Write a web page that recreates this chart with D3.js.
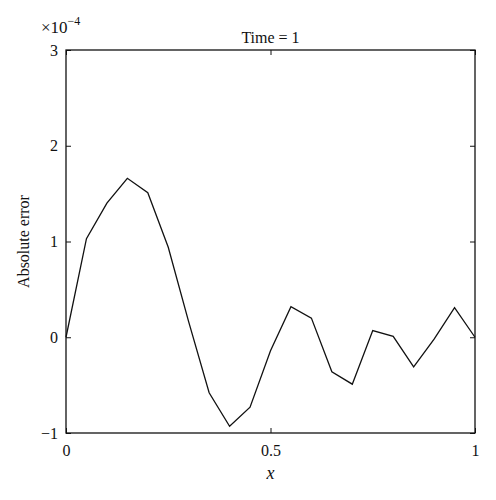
<!DOCTYPE html>
<html>
<head>
<meta charset="utf-8">
<script src="https://cdn.jsdelivr.net/npm/d3@7"></script>
<style>
  body { margin: 0; background: #fff; }
  text { font-family: "Liberation Serif", "DejaVu Serif", serif; fill: #111; }
</style>
</head>
<body>
<div id="chart"></div>
<script>
'use strict';
// sample points and absolute error (in units of 1e-4)
const xs = [0, 0.05, 0.1, 0.15, 0.2, 0.25, 0.3, 0.35, 0.4, 0.45, 0.5,
            0.55, 0.6, 0.65, 0.7, 0.75, 0.8, 0.85, 0.9, 0.95, 1];
const errs = [0, 1.03, 1.40, 1.66, 1.51, 0.94, 0.16, -0.58, -0.93, -0.73, -0.14,
              0.32, 0.20, -0.36, -0.49, 0.07, 0.01, -0.31, -0.02, 0.31, 0];
const xTicks = [0, 0.5, 1];
const yTicks = [-1, 0, 1, 2, 3];

((d3) => {
    const width = 496;
    const height = 500;
    const margin = { top: 50, right: 21, bottom: 67, left: 66 };
    const w = width - margin.left - margin.right;
    const h = height - margin.top - margin.bottom;

    const svg = d3.select('#chart')
        .append('svg')
        .attr('width', width)
        .attr('height', height);

    const g = svg.append('g')
        .attr('transform', 'translate(' + margin.left + ',' + margin.top + ')');

    const x = d3.scaleLinear().domain([0, 1]).range([0, w]);
    const y = d3.scaleLinear().domain([-1, 3]).range([h, 0]);

//axes, ticks pointing inward on all four sides
    const tickLen = 5;
    const styleAxis = (sel) => {
        sel.select('.domain').remove();
        sel.selectAll('line').attr('stroke', '#111').attr('stroke-width', 1);
        sel.selectAll('text').style('font-size', '16px');
    };

    g.append('g')
        .attr('transform', 'translate(0,' + h + ')')
        .call(d3.axisBottom(x).tickValues(xTicks).tickSizeInner(-tickLen).tickSizeOuter(0)
            .tickPadding(12).tickFormat(d3.format('')))
        .call(styleAxis);

    g.append('g')
        .call(d3.axisTop(x).tickValues(xTicks).tickSizeInner(-tickLen).tickSizeOuter(0)
            .tickFormat(''))
        .call(styleAxis);

    g.append('g')
        .call(d3.axisLeft(y).tickValues(yTicks).tickSizeInner(-tickLen).tickSizeOuter(0)
            .tickPadding(8).tickFormat((d) => d < 0 ? '\u2212' + Math.abs(d) : d))
        .call(styleAxis);

    g.append('g')
        .attr('transform', 'translate(' + w + ',0)')
        .call(d3.axisRight(y).tickValues(yTicks).tickSizeInner(-tickLen).tickSizeOuter(0)
            .tickFormat(''))
        .call(styleAxis);

//frame
    g.append('rect')
        .attr('width', w)
        .attr('height', h)
        .attr('fill', 'none')
        .attr('stroke', '#111')
        .attr('stroke-width', 1.3);

//error curve
    const line = d3.line()
        .x((d, i) => x(xs[i]))
        .y((d) => y(d));

    g.append('path')
        .datum(errs)
        .attr('d', line)
        .attr('fill', 'none')
        .attr('stroke', '#111')
        .attr('stroke-width', 1.3);

//labels
    svg.append('text')
        .attr('x', margin.left + w / 2)
        .attr('y', margin.top - 7)
        .attr('text-anchor', 'middle')
        .style('font-size', '16px')
        .text('Time = 1');

    svg.append('text')
        .attr('x', margin.left + w / 2)
        .attr('y', 479)
        .attr('text-anchor', 'middle')
        .style('font-size', '18px')
        .style('font-style', 'italic')
        .text('x');

    svg.append('text')
        .attr('transform', 'translate(29,' + (margin.top + h / 2) + ') rotate(-90)')
        .attr('text-anchor', 'middle')
        .style('font-size', '16px')
        .text('Absolute error');

    const mult = svg.append('text')
        .attr('x', 41)
        .attr('y', 33)
        .style('font-size', '17px');
    mult.append('tspan').text('\u00d710');
    mult.append('tspan')
        .attr('dy', -8)
        .style('font-size', '12px')
        .text('\u22124');
})(window.d3);
</script>
</body>
</html>
